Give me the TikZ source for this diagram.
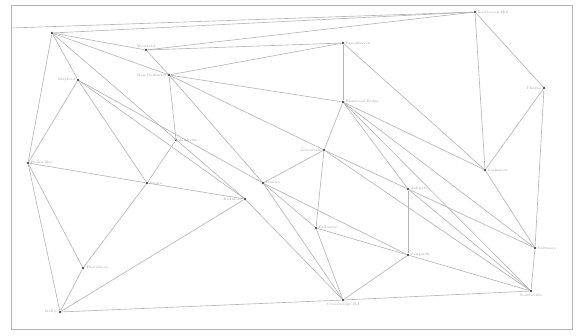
\documentclass[tikz,border=0pt]{standalone}
\usepackage{tikz}
\definecolor{netgray}{HTML}{B4B6B5}
\definecolor{dotgray}{HTML}{4A4C4B}
\definecolor{txtgray}{HTML}{9A9C9B}

\begin{document}
\begin{tikzpicture}[x=0.5mm, y=-0.5mm,
    site/.style={circle, fill=dotgray, inner sep=0pt, minimum size=1.4mm},
    tag/.style={font=\fontsize{5}{6}\selectfont, text=txtgray, inner sep=1.5pt},
    link/.style={draw=netgray, line width=0.9pt},
    frame/.style={draw=netgray, line width=0.9pt}
]
\useasboundingbox (0,0) rectangle (576,335);
\draw[frame] (11,5) -- (572,5) -- (572,329) -- (11,329) -- cycle;
\coordinate (edge) at (11,28);

% sites
\node[site] (a) at (52,33) {};
\node[site, label={[tag]above:Westfold}] (b) at (146,50) {};
\node[site, label={[tag]left:Ben Oakhurst}] (c) at (169,75) {};
\node[site, label={[tag]left:Mayford}] (d) at (78,80) {};
\node[site, label={[tag]right:Brookhaven}] (e) at (343,43) {};
\node[site, label={[tag]right:Elmstead Ridge}] (f) at (343,102) {};
\node[site, label={[tag]right:Eastbrook Hill}] (g) at (475,12) {};
\node[site, label={[tag]left:Thorne}] (h) at (544,88) {};
\node[site, label={[tag]right:Larkmoor}] (i) at (485,170) {};
\node[site, label={[tag]right:Ashgate}] (j) at (408,189) {};
\node[site, label={[tag]left:Greenvale}] (k) at (324,150) {};
\node[site, label={[tag]right:Dunley}] (l) at (263,183) {};
\node[site, label={[tag]left:Redmoor}] (m) at (245,199) {};
\node[site, label={[tag]right:Fallowby}] (n) at (316,228) {};
\node[site, label={[tag]right:Arkholm}] (o) at (176,140) {};
\node[site, label={[tag]right:Hollin Bay}] (p) at (28,163) {};
\node[site, label={[tag]right:Stowe}] (q) at (147,183) {};
\node[site, label={[tag]right:Thornbury}] (r) at (83,268) {};
\node[site, label={[tag]left:Kelby}] (s) at (60,312) {};
\node[site, label={[tag]below:Crossbridge Rd}] (t) at (343,300) {};
\node[site, label={[tag]right:Pengarth}] (u) at (408,255) {};
\node[site, label={[tag]right:Saltmere}] (v) at (535,248) {};
\node[site, label={[tag]below:Southcliffe}] (w) at (531,291) {};

% outer links
\draw[link] (edge) -- (g);
\draw[link] (a) -- (g);
\draw[link] (g) -- (h);
\draw[link] (h) -- (v);
\draw[link] (v) -- (w);
\draw[link] (w) -- (t);
\draw[link] (t) -- (s);
\draw[link] (s) -- (p);
\draw[link] (p) -- (a);

% inner links
\draw[link] (a) -- (b);
\draw[link] (a) -- (c);
\draw[link] (a) -- (d);
\draw[link] (a) -- (m);
\draw[link] (b) -- (c);
\draw[link] (b) -- (e);
\draw[link] (b) -- (g);
\draw[link] (c) -- (e);
\draw[link] (c) -- (f);
\draw[link] (c) -- (k);
\draw[link] (c) -- (l);
\draw[link] (c) -- (o);
\draw[link] (d) -- (p);
\draw[link] (d) -- (q);
\draw[link] (d) -- (m);
\draw[link] (d) -- (l);
\draw[link] (e) -- (f);
\draw[link] (e) -- (i);
\draw[link] (f) -- (k);
\draw[link] (f) -- (i);
\draw[link] (f) -- (v);
\draw[link] (f) -- (w);
\draw[link] (f) -- (j);
\draw[link] (g) -- (i);
\draw[link] (h) -- (i);
\draw[link] (i) -- (v);
\draw[link] (j) -- (k);
\draw[link] (j) -- (u);
\draw[link] (j) -- (v);
\draw[link] (j) -- (w);
\draw[link] (k) -- (l);
\draw[link] (k) -- (n);
\draw[link] (k) -- (w);
\draw[link] (l) -- (n);
\draw[link] (l) -- (t);
\draw[link] (l) -- (u);
\draw[link] (m) -- (q);
\draw[link] (m) -- (t);
\draw[link] (m) -- (s);
\draw[link] (n) -- (t);
\draw[link] (n) -- (u);
\draw[link] (o) -- (q);
\draw[link] (p) -- (q);
\draw[link] (p) -- (r);
\draw[link] (q) -- (r);
\draw[link] (r) -- (s);
\draw[link] (u) -- (t);
\draw[link] (u) -- (w);
\end{tikzpicture}
\end{document}
